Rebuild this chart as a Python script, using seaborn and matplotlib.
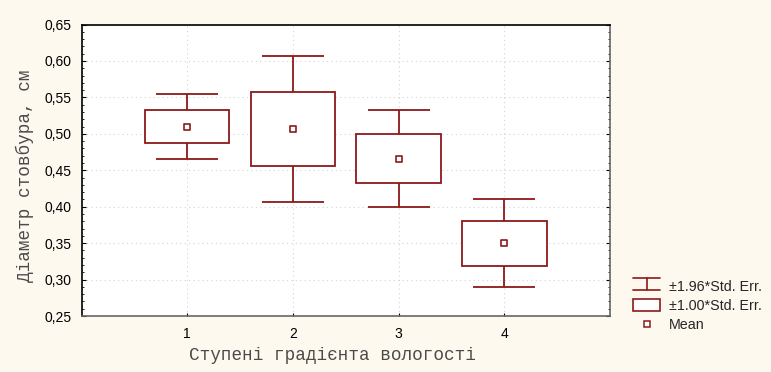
import seaborn as sns
from matplotlib import pyplot as plt
from matplotlib.legend_handler import HandlerBase
from matplotlib.lines import Line2D
from matplotlib.patches import Rectangle
from matplotlib.ticker import FuncFormatter, MultipleLocator
import numpy as np

# data
groups = [1, 2, 3, 4]
means = [0.510, 0.507, 0.466, 0.350]
std_err = [0.023, 0.051, 0.034, 0.031]

color = '#8b1a1a'
bg = '#fdf9ef'

sns.set_style('white')
plt.rcParams['font.family'] = ['Liberation Sans', 'DejaVu Sans']
mono = ['Liberation Mono', 'DejaVu Sans Mono']

fig = plt.figure(figsize=(7.71, 3.72), dpi=100, facecolor=bg)
ax = fig.add_axes([81.5 / 771, 1 - 316 / 372, (610 - 81.5) / 771, (316 - 24.5) / 372])
ax.set_facecolor('white')

m = np.array(means)
se = np.array(std_err)

# +-1.00*SE boxes
ax.bar(groups, 2 * se, bottom=m - se, width=0.8, facecolor='white',
       edgecolor=color, linewidth=1.3, zorder=3)
# +-1.96*SE whiskers
ax.errorbar(groups, m, yerr=1.96 * se, fmt='none', ecolor=color,
            elinewidth=1.3, capsize=22.5, capthick=1.3, zorder=2)
# means
sns.scatterplot(x=groups, y=means, marker='s', s=25, facecolor='white',
                edgecolor=color, linewidth=1.2, ax=ax, zorder=4)

ax.set_xlim(0, 5)
ax.set_ylim(0.25, 0.65)
ax.set_xticks(groups)
ax.yaxis.set_major_locator(MultipleLocator(0.05))
ax.yaxis.set_minor_locator(MultipleLocator(0.01))
ax.yaxis.set_major_formatter(FuncFormatter(lambda v, p: f'{v:.2f}'.replace('.', ',')))
ax.tick_params(axis='both', which='both', direction='in', labelsize=10,
               colors='black', right=True, left=True, bottom=True)
ax.tick_params(axis='y', which='major', length=3, pad=7)
ax.tick_params(axis='y', which='minor', length=1.5)
ax.tick_params(axis='x', length=2, pad=8)
ax.grid(True, linestyle=(0, (1, 3)), color='#d4d4d4', linewidth=0.8)
ax.set_axisbelow(True)
for s in ax.spines.values():
    s.set_color('black')
    s.set_linewidth(1.2)
ax.spines['bottom'].set_color('#666666')
ax.spines['right'].set_color('#666666')

ax.set_xlabel('Ступені градієнта вологості', family=mono, fontsize=12.7,
              color='#4a4a4a', va='center')
ax.set_ylabel('Діаметр стовбура, см', family=mono, fontsize=12.7,
              color='#4a4a4a', va='center')
ax.xaxis.set_label_coords((332 - 81.5) / 528.5, (316 - 355) / 291.5)
ax.yaxis.set_label_coords((25 - 81.5) / 528.5, (316 - 176) / 291.5)


class WhiskerHandler(HandlerBase):
    def create_artists(self, legend, orig, xd, yd, w, h, fontsize, trans):
        x0, x1 = xd, xd + w
        xc = xd + w / 2
        y0, y1 = yd, yd + h
        lines = [Line2D([x0, x1], [y1, y1]), Line2D([x0, x1], [y0, y0]),
                 Line2D([xc, xc], [y0, y1])]
        for ln in lines:
            ln.set_color(color)
            ln.set_linewidth(1.2)
            ln.set_transform(trans)
        return lines


h_whisk = Line2D([], [], color=color)
h_box = Rectangle((0, 0), 1, 1, facecolor='white', edgecolor=color, linewidth=1.2)
h_mean = Line2D([], [], marker='s', linestyle='none', markersize=5,
                markerfacecolor='white', markeredgecolor=color, markeredgewidth=1.1)
fig.legend([h_whisk, h_box, h_mean],
           ['±1.96*Std. Err.', '±1.00*Std. Err.', 'Mean'],
           handler_map={h_whisk: WhiskerHandler()},
           loc='upper left', bbox_to_anchor=(633 / 771, 1 - 280 / 372),
           frameon=False, fontsize=10.3, handlelength=1.9, handleheight=0.9,
           handletextpad=0.63, labelspacing=0.35, borderaxespad=0, borderpad=0)

fig.savefig('out.png', dpi=100, facecolor=bg)
